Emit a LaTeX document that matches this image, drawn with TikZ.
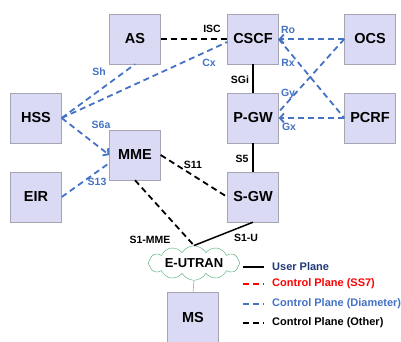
\documentclass[tikz,border=0pt]{standalone}
\usepackage{fontspec}
\setmainfont{Liberation Sans}
\usepackage{xcolor}
\usetikzlibrary{shapes.symbols,arrows.meta}

\definecolor{boxfill}{RGB}{218,218,245}
\definecolor{boxline}{RGB}{165,165,180}
\definecolor{diamblue}{RGB}{68,114,196}
\definecolor{userblue}{RGB}{31,56,120}
\definecolor{cloudgreen}{RGB}{70,170,110}

\tikzset{
  nebox/.style={draw=boxline, fill=boxfill, minimum width=51pt, minimum height=50pt, inner sep=0pt, font=\fontsize{14.5}{16}\selectfont\bfseries},
  blab/.style={text=diamblue, inner sep=1pt, font=\fontsize{10.5}{11}\selectfont\bfseries},
  klab/.style={text=black, inner sep=1pt, font=\fontsize{10.5}{11}\selectfont\bfseries},
  diam/.style={draw=diamblue, line width=1.8pt, dash pattern=on 6pt off 4pt},
  other/.style={draw=black, line width=1.8pt, dash pattern=on 6pt off 4pt},
  user/.style={draw=black, line width=1.5pt},
  legtext/.style={anchor=west, inner sep=0pt, font=\fontsize{11}{12}\selectfont\bfseries},
  tip/.style={-{Straight Barb[length=4pt,width=9pt]}}
}

\begin{document}
\begin{tikzpicture}[x=1pt, y=-1pt]
\clip (0,0) rectangle (401,341);

%network elements
\node[nebox] (AS) at (135,39) {AS}; \node[nebox] (CSCF) at (253,39) {CSCF}; \node[nebox] (OCS) at (370,39) {OCS};
\node[nebox] (HSS) at (36,118) {HSS}; \node[nebox] (PGW) at (253,118) {P-GW}; \node[nebox] (PCRF) at (370,118) {PCRF};
\node[nebox] (MME) at (135,155) {MME}; \node[nebox] (SGW) at (253,197) {S-GW}; \node[nebox] (EIR) at (36,197) {EIR};
\node[cloud, cloud puffs=12, cloud puff arc=120, aspect=3.6, minimum width=92pt, minimum height=27pt, draw=cloudgreen, fill=white, inner sep=0pt, font=\fontsize{13}{14}\selectfont\bfseries] (EUTRAN) at (194,263) {E-UTRAN};
\node[nebox] (MS) at (193,317) {MS};

%diameter interfaces
\draw[diam] (HSS.east) -- (AS.south);
\draw[diam] (HSS.east) -- ([yshift=-3pt]CSCF.west);
\draw[diam, tip] (HSS.east) -- (MME.west);
\draw[diam] (EIR.east) -- ([yshift=-8pt]MME.west);
\draw[diam, tip] (OCS.west) -- (CSCF.east);
\draw[diam] (CSCF.east) -- (PCRF.west);
\draw[diam] (OCS.west) -- ([yshift=6pt]PGW.east);
\draw[diam, tip] (PCRF.west) -- (PGW.east);

%other control plane
\draw[other] (AS.east) -- (CSCF.west);
\draw[other] (MME.east) -- (SGW.west);
\draw[other] (MME.south) -- (EUTRAN.north);

%user plane
\draw[user] (CSCF.south) -- (PGW.north);
\draw[user] (PGW.south) -- (SGW.north);
\draw[user] (SGW.south) -- (EUTRAN.north);
\draw[gray, thin] (EUTRAN.south) -- (MS.north);

%interface labels
\node[klab] (lisc) at (212,29) {ISC}; \node[blab] (lcx) at (209,63) {Cx};
\node[blab] (lsh) at (99,72) {Sh}; \node[blab] (ls6a) at (101,125) {S6a}; \node[blab] (ls13) at (97,182) {S13};
\node[klab] (ls11) at (193,165) {S11}; \node[klab] (ls1mme) at (150,240) {S1-MME}; \node[klab] (ls1u) at (246,238) {S1-U};
\node[klab] (lsgi) at (240,80) {SGi}; \node[klab] (ls5) at (242,159) {S5};
\node[blab] (lro) at (288,30) {Ro}; \node[blab] (lrx) at (288,63) {Rx}; \node[blab] (lgy) at (288,94) {Gy}; \node[blab] (lgx) at (289,127) {Gx};

%legend
\coordinate (ua) at (243,267); \coordinate (ub) at (264,267);
\coordinate (sa) at (243,284); \coordinate (sb) at (264,284);
\coordinate (da) at (243,304); \coordinate (db) at (264,304);
\coordinate (oa) at (243,323); \coordinate (ob) at (264,323);
\draw[user] (ua) -- (ub);
\draw[other, draw=red] (sa) -- (sb);
\draw[diam] (da) -- (db);
\draw[other] (oa) -- (ob);
\node[legtext, text=userblue] (luser) at (272,267) {User Plane};
\node[legtext, text=red] (lss7) at (272,284) {Control Plane (SS7)};
\node[legtext, text=diamblue] (ldiam) at (272,304) {Control Plane (Diameter)};
\node[legtext, text=black] (lother) at (272,323) {Control Plane (Other)};
\end{tikzpicture}
\end{document}
